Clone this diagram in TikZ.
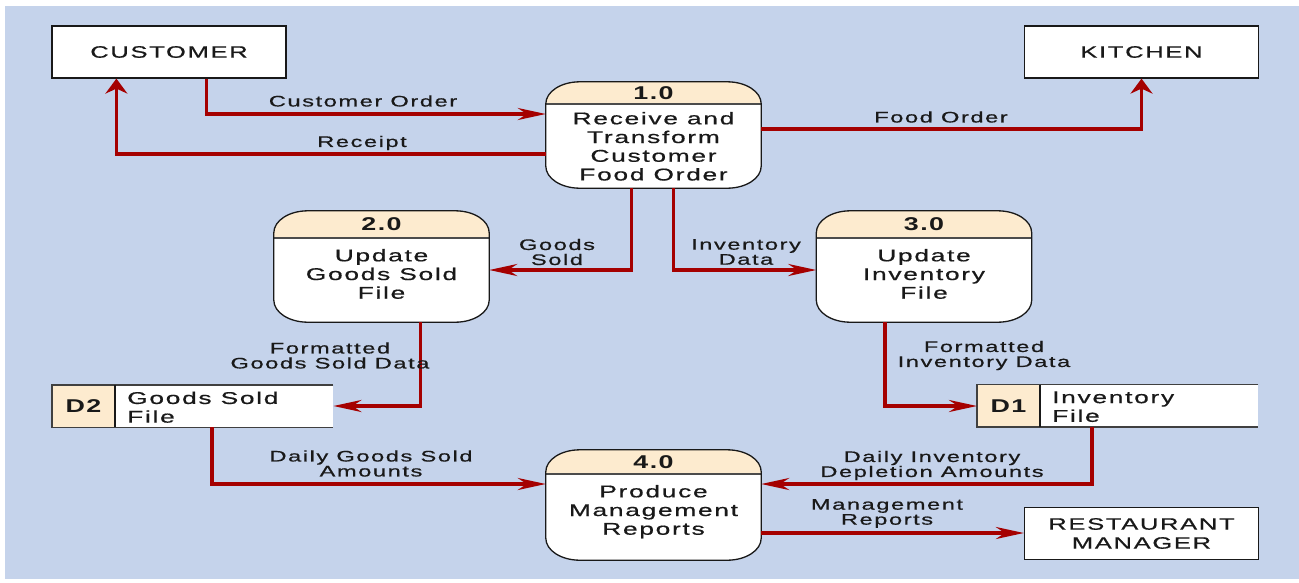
\documentclass[tikz,border=0pt]{standalone}
\usepackage{fontspec}
\setmainfont{Liberation Sans}
\newfontfamily\dfdfont{Liberation Sans}[FakeStretch=1.45,LetterSpace=8]
\newfontfamily\dfdwide{Liberation Sans}[FakeStretch=1.55,LetterSpace=10,FakeBold=0.6]
\usetikzlibrary{arrows.meta,calc}
\definecolor{bgblue}{RGB}{197,211,235}
\definecolor{flow}{RGB}{165,0,0}
\definecolor{peach}{RGB}{253,235,207}
\definecolor{ink}{RGB}{25,25,25}
\tikzset{
  x=1pt,y=-1pt,
  ext/.style={draw=ink, line width=1.2pt, fill=white, minimum width=234pt, minimum height=52pt,
    font=\dfdwide\fontsize{16.5}{19}\selectfont, align=center, inner sep=0pt, text=ink},
  lbl/.style={font=\dfdwide\fontsize{15.3}{15}\selectfont, align=center, inner sep=0pt, text=ink},
  ptext/.style={font=\dfdwide\fontsize{17}{18.7}\selectfont, align=center, inner sep=0pt, text=ink},
  pnum/.style={font=\dfdfont\bfseries\fontsize{18.5}{18.5}\selectfont, inner sep=0pt, text=ink},
  procbox/.style={rectangle, minimum width=215pt, inner sep=0pt},
  flowline/.style={draw=flow, line width=3.5pt},
  harrow/.style={flowline, -{Stealth[length=28pt,width=12pt,inset=9pt]}},
  varrow/.style={flowline, -{Stealth[length=15pt,width=22pt,inset=5pt]}},
}
\newcommand\procpath[1]{([xshift=34pt]#1.north west) -- ([xshift=-34pt]#1.north east)
  arc[start angle=90,end angle=0,x radius=34pt,y radius=22pt]
  -- ([yshift=22pt]#1.south east)
  arc[start angle=0,end angle=-90,x radius=34pt,y radius=22pt]
  -- ([xshift=34pt]#1.south west)
  arc[start angle=270,end angle=180,x radius=34pt,y radius=22pt]
  -- ([yshift=-22pt]#1.north west)
  arc[start angle=180,end angle=90,x radius=34pt,y radius=22pt] -- cycle}
% name, cx, cy, height, header height, number, text, text gap
\newcommand\dfdproc[8]{%
  \node[procbox, minimum height=#4pt] (#1) at (#2,#3) {};
  \fill[white] \procpath{#1};
  \begin{scope}
    \clip \procpath{#1};
    \fill[peach] (#1.north west) rectangle ([yshift=-#5pt]#1.north east);
  \end{scope}
  \draw[black!70, line width=2pt] ([yshift=-#5pt]#1.north west) -- ([yshift=-#5pt]#1.north east);
  \draw[ink, line width=1.3pt] \procpath{#1};
  \node[pnum] (#1num) at ([yshift=-#5pt/2]#1.north) {#6};
  \node[ptext, anchor=north] (#1txt) at ([yshift=-#5pt-#8pt]#1.north) {#7};
}
% name, x-left, y-top, id, text
\newcommand\dfdstore[5]{%
  \node[rectangle, minimum width=281pt, minimum height=42pt, inner sep=0pt, anchor=north west, fill=white] (#1) at (#2,#3) {};
  \fill[peach] (#1.north west) rectangle ([xshift=63pt]#1.south west);
  \draw[black!75, line width=1.3pt] (#1.north east) -- (#1.north west) -- (#1.south west) -- (#1.south east);
  \draw[ink, line width=1.3pt] ([xshift=63pt]#1.north west) -- ([xshift=63pt]#1.south west);
  \node[pnum] (#1id) at ([xshift=31.5pt]#1.west) {#4};
  \node[ptext, align=left, anchor=west] (#1txt) at ([xshift=75pt,yshift=-1pt]#1.west) {#5};
}
\begin{document}
\begin{tikzpicture}
\useasboundingbox (0,0) rectangle (1299,582);
\fill[white] (0,0) rectangle (1299,582);
\fill[bgblue] (5,6) rectangle (1299,579);

% external entities
\node[ext] (cust) at (169,52) {CUSTOMER};
\node[ext] (kitch) at (1141.5,52) {KITCHEN};
\node[ext] (mgr) at (1141.5,533.5) {RESTAURANT\\MANAGER};

% processes
\dfdproc{p1}{653.5}{135}{106}{22}{1.0}{Receive and\\Transform\\Customer\\Food Order}{8}
\dfdproc{p2}{381.5}{266.5}{111}{27}{2.0}{Update\\Goods Sold\\File}{11}
\dfdproc{p3}{924}{266.5}{111}{27}{3.0}{Update\\Inventory\\File}{11}
\dfdproc{p4}{653.5}{505}{110}{24}{4.0}{Produce\\Management\\Reports}{11}

% data stores
\dfdstore{d2}{52}{385}{D2}{Goods Sold\\File}
\dfdstore{d1}{977}{384.5}{D1}{Inventory\\File}

% flows
\draw[harrow] ([xshift=155pt]cust.south west) |- (p1.west |- 0,114);
\draw[varrow] (p1.west |- 0,154) -| ([xshift=65pt]cust.south west);
\draw[varrow] (p1.east |- 0,129) -| (kitch.south);
\draw[harrow] ([xshift=-22pt]p1.south) |- (p2.east |- 0,270);
\draw[harrow] ([xshift=20pt]p1.south) |- (p3.west |- 0,270);
\draw[harrow] ([xshift=39pt]p2.south) |- (d2.east |- 0,406);
\draw[harrow] ([xshift=-39pt]p3.south) |- (d1.west |- 0,406);
\draw[harrow] ([xshift=160pt]d2.south west) |- (p4.west |- 0,484);
\draw[harrow] ([xshift=115pt]d1.south west) |- (p4.east |- 0,484);
\draw[harrow] (p4.east |- 0,533) -- (mgr.west |- 0,533);

% flow labels
\node[lbl] (lco) at (363,101) {Customer Order};
\node[lbl] (lrc) at (362,143) {Receipt};
\node[lbl] (lfo) at (941,117) {Food Order};
\node[lbl] (lgs) at (557,252) {Goods\\Sold};
\node[lbl] (lid) at (746,252) {Inventory\\Data};
\node[lbl] (lfg) at (330,355.5) {Formatted\\Goods Sold Data};
\node[lbl] (lfi) at (984,355.5) {Formatted\\Inventory Data};
\node[lbl] (ldg) at (371,463.5) {Daily Goods Sold\\Amounts};
\node[lbl] (ldi) at (932,465.5) {Daily Inventory\\Depletion Amounts};
\node[lbl] (lmr) at (887,513.5) {Management\\Reports};
\end{tikzpicture}
\end{document}
